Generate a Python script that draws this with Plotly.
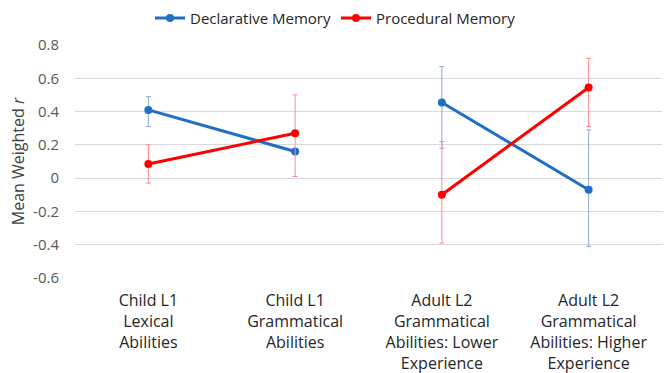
import plotly.graph_objects as go

# Category labels (multi-line tick text)
categories = [
    "Child L1<br>Lexical<br>Abilities",
    "Child L1<br>Grammatical<br>Abilities",
    "Adult L2<br>Grammatical<br>Abilities: Lower<br>Experience",
    "Adult L2<br>Grammatical<br>Abilities: Higher<br>Experience",
]
# Which comparison pair each category belongs to (lines only join within a pair)
pair = [0, 0, 1, 1]

# Declarative memory: mean weighted r with confidence bounds (None = no bar shown)
decl_mean = [0.41, 0.16, 0.455, -0.07]
decl_upper = [0.49, None, 0.67, 0.29]
decl_lower = [0.31, None, 0.18, -0.41]

# Procedural memory: mean weighted r with confidence bounds
proc_mean = [0.085, 0.27, -0.10, 0.545]
proc_upper = [0.20, 0.50, 0.22, 0.72]
proc_lower = [-0.03, 0.01, -0.39, 0.31]

y_ticks = [-0.6, -0.4, -0.2, 0, 0.2, 0.4, 0.6, 0.8]
y_tick_text = ["-0.6", "-0.4", "-0.2", "0", "0.2", "0.4", "0.6", "0.8"]

FONT = "Open Sans"

series = [
    ("Declarative Memory", decl_mean, decl_upper, decl_lower, "#1f6fc6", "#8eaad4"),
    ("Procedural Memory", proc_mean, proc_upper, proc_lower, "#ff0000", "#ff8c8c"),
]


def diff(a, b):
    return None if a is None or b is None else a - b


fig = go.Figure()
for name, mean, upper, lower, color, err_color in series:
    for k, p in enumerate(sorted(set(pair))):
        idx = [i for i, g in enumerate(pair) if g == p]
        fig.add_trace(go.Scatter(
            x=idx, y=[mean[i] for i in idx],
            name=name, legendgroup=name, showlegend=(k == 0),
            mode="lines+markers",
            line=dict(color=color, width=3),
            marker=dict(color=color, size=8),
            error_y=dict(
                type="data", symmetric=False,
                array=[diff(upper[i], mean[i]) for i in idx],
                arrayminus=[diff(mean[i], lower[i]) for i in idx],
                color=err_color, thickness=1, width=2.5,
            ),
        ))

fig.update_layout(
    width=671, height=373,
    margin=dict(l=74.5, r=8.5, t=44.5, b=95, autoexpand=False),
    paper_bgcolor="white", plot_bgcolor="white",
    font=dict(family=FONT, size=15, color="#595959"),
    showlegend=True,
    legend=dict(
        orientation="h", xref="container", yref="container",
        x=0.5, xanchor="center", y=0.995, yanchor="top",
        font=dict(family=FONT, size=15, color="#262626"),
        itemwidth=30, tracegroupgap=0,
    ),
    xaxis=dict(
        range=[-0.5, len(categories) - 0.5],
        tickmode="array", tickvals=list(range(len(categories))), ticktext=categories,
        showgrid=False, zeroline=False, showline=False,
        ticks="outside", ticklen=8, tickcolor="rgba(0,0,0,0)",
        tickfont=dict(family=FONT, size=16, color="#262626"),
        fixedrange=True,
    ),
    yaxis=dict(
        range=[-0.6, 0.8],
        tickmode="array", tickvals=y_ticks, ticktext=y_tick_text,
        showgrid=True, gridcolor="#d9d9d9", gridwidth=1,
        zeroline=False, showline=False,
        ticks="outside", ticklen=12, tickcolor="rgba(0,0,0,0)",
        tickfont=dict(family=FONT, size=15, color="#595959"),
        title=dict(text="Mean Weighted <i>r</i>", standoff=4,
                   font=dict(family=FONT, size=16, color="#404040")),
        fixedrange=True,
    ),
)

fig.write_html("out.html")
